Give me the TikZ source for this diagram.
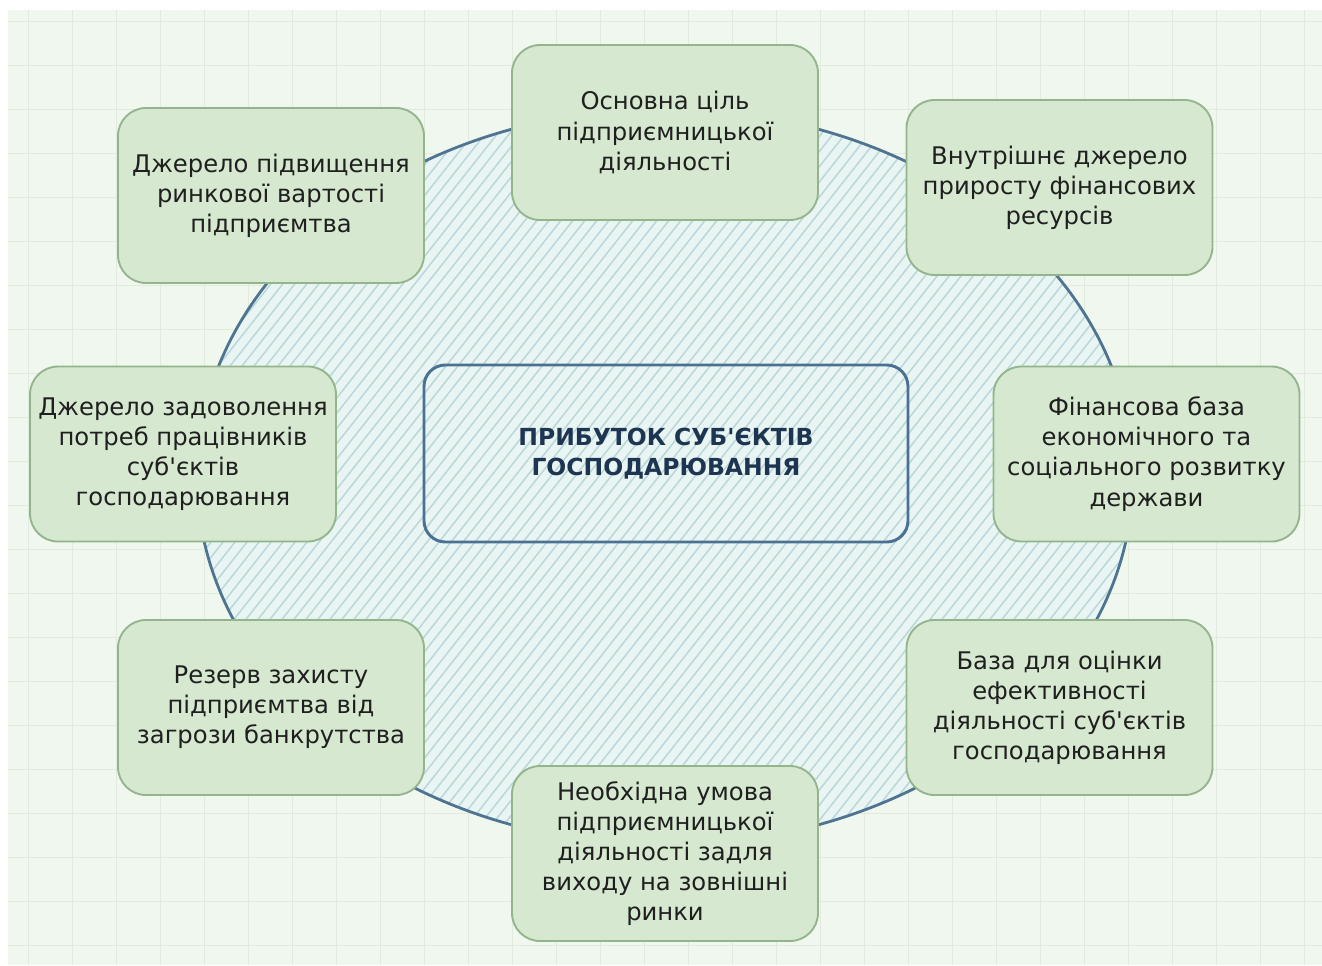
\documentclass[tikz,border=0pt]{standalone}
\usepackage{fontspec}
\newfontfamily\uafont{DejaVu Sans}
\usetikzlibrary{shapes.geometric}

\definecolor{pagebg}{HTML}{F0F7EE}
\definecolor{gridline}{HTML}{E0EBDC}
\definecolor{boxfill}{HTML}{D6E8D0}
\definecolor{boxdraw}{HTML}{94B48C}
\definecolor{ovalfill}{HTML}{E8F5F3}
\definecolor{hatch}{HTML}{BAD6D9}
\definecolor{ovaldraw}{HTML}{4F7492}
\definecolor{coredraw}{HTML}{4A7194}
\definecolor{coretext}{HTML}{1E3552}
\definecolor{boxtext}{HTML}{1F1F1F}

\tikzset{
  rolebox/.style={draw=boxdraw, line width=1.4pt, fill=boxfill,
    rounded corners=21pt, minimum width=229.5pt, minimum height=131.25pt,
    align=center, text=boxtext, inner sep=1pt,
    font=\uafont\fontsize{18.2}{22.6}\selectfont},
  corebox/.style={draw=coredraw, line width=2.2pt,
    rounded corners=16pt, minimum width=363pt, minimum height=132.75pt,
    align=center, text=coretext,
    font=\uafont\bfseries\fontsize{17.6}{22.6}\selectfont},
}

\begin{document}
\begin{tikzpicture}[x=0.75pt, y=-0.75pt]
  % canvas and margins
  \useasboundingbox (0,0) rectangle (1322,965);
  \fill[white] (0,0) rectangle (1322,965);
  \fill[pagebg] (8,10) rectangle (1322,965);

  % background grid
  \begin{scope}
    \clip (8,10) rectangle (1322,965);
    \foreach \gx in {0,...,29} {
      \draw[gridline, line width=0.6pt] ({28+44*\gx},10) -- ({28+44*\gx},965);
    }
    \foreach \gy in {0,...,21} {
      \draw[gridline, line width=0.6pt] (8,{21+44*\gy}) -- (1322,{21+44*\gy});
    }
  \end{scope}

  % hatched oval
  \fill[ovalfill] (665,477) ellipse [x radius=351pt, y radius=276pt];
  \begin{scope}
    \clip (665,477) ellipse [x radius=351pt, y radius=276pt];
    \foreach \hk in {-700,-688,...,1400} {
      \draw[hatch, line width=1.1pt] (\hk,860) -- ({\hk+600},100);
    }
  \end{scope}
  \draw[ovaldraw, line width=2.1pt] (665,477) ellipse [x radius=351pt, y radius=276pt];

  % central node
  \node[corebox] (core) at (666,453.5)
    {ПРИБУТОК СУБ'ЄКТІВ\\ГОСПОДАРЮВАННЯ};

  % surrounding roles
  \node[rolebox] (goal) at (665,132.5)
    {Основна ціль\\підприємницької\\діяльності};
  \node[rolebox] (value) at (271,195.5)
    {Джерело підвищення\\ринкової вартості\\підприємтва};
  \node[rolebox] (inner) at (1059.5,187.5)
    {Внутрішнє джерело\\приросту фінансових\\ресурсів};
  \node[rolebox] (state) at (1146.5,454)
    {Фінансова база\\економічного та\\соціального розвитку\\держави};
  \node[rolebox] (staff) at (183,454)
    {Джерело задоволення\\потреб працівників\\суб'єктів\\господарювання};
  \node[rolebox] (reserve) at (271,707.5)
    {Резерв захисту\\підприємтва від\\загрози банкрутства};
  \node[rolebox] (assess) at (1059.5,707.5)
    {База для оцінки\\ефективності\\діяльності суб'єктів\\господарювання};
  \node[rolebox] (export) at (665,853.5)
    {Необхідна умова\\підприємницької\\діяльності задля\\виходу на зовнішні\\ринки};
\end{tikzpicture}
\end{document}
